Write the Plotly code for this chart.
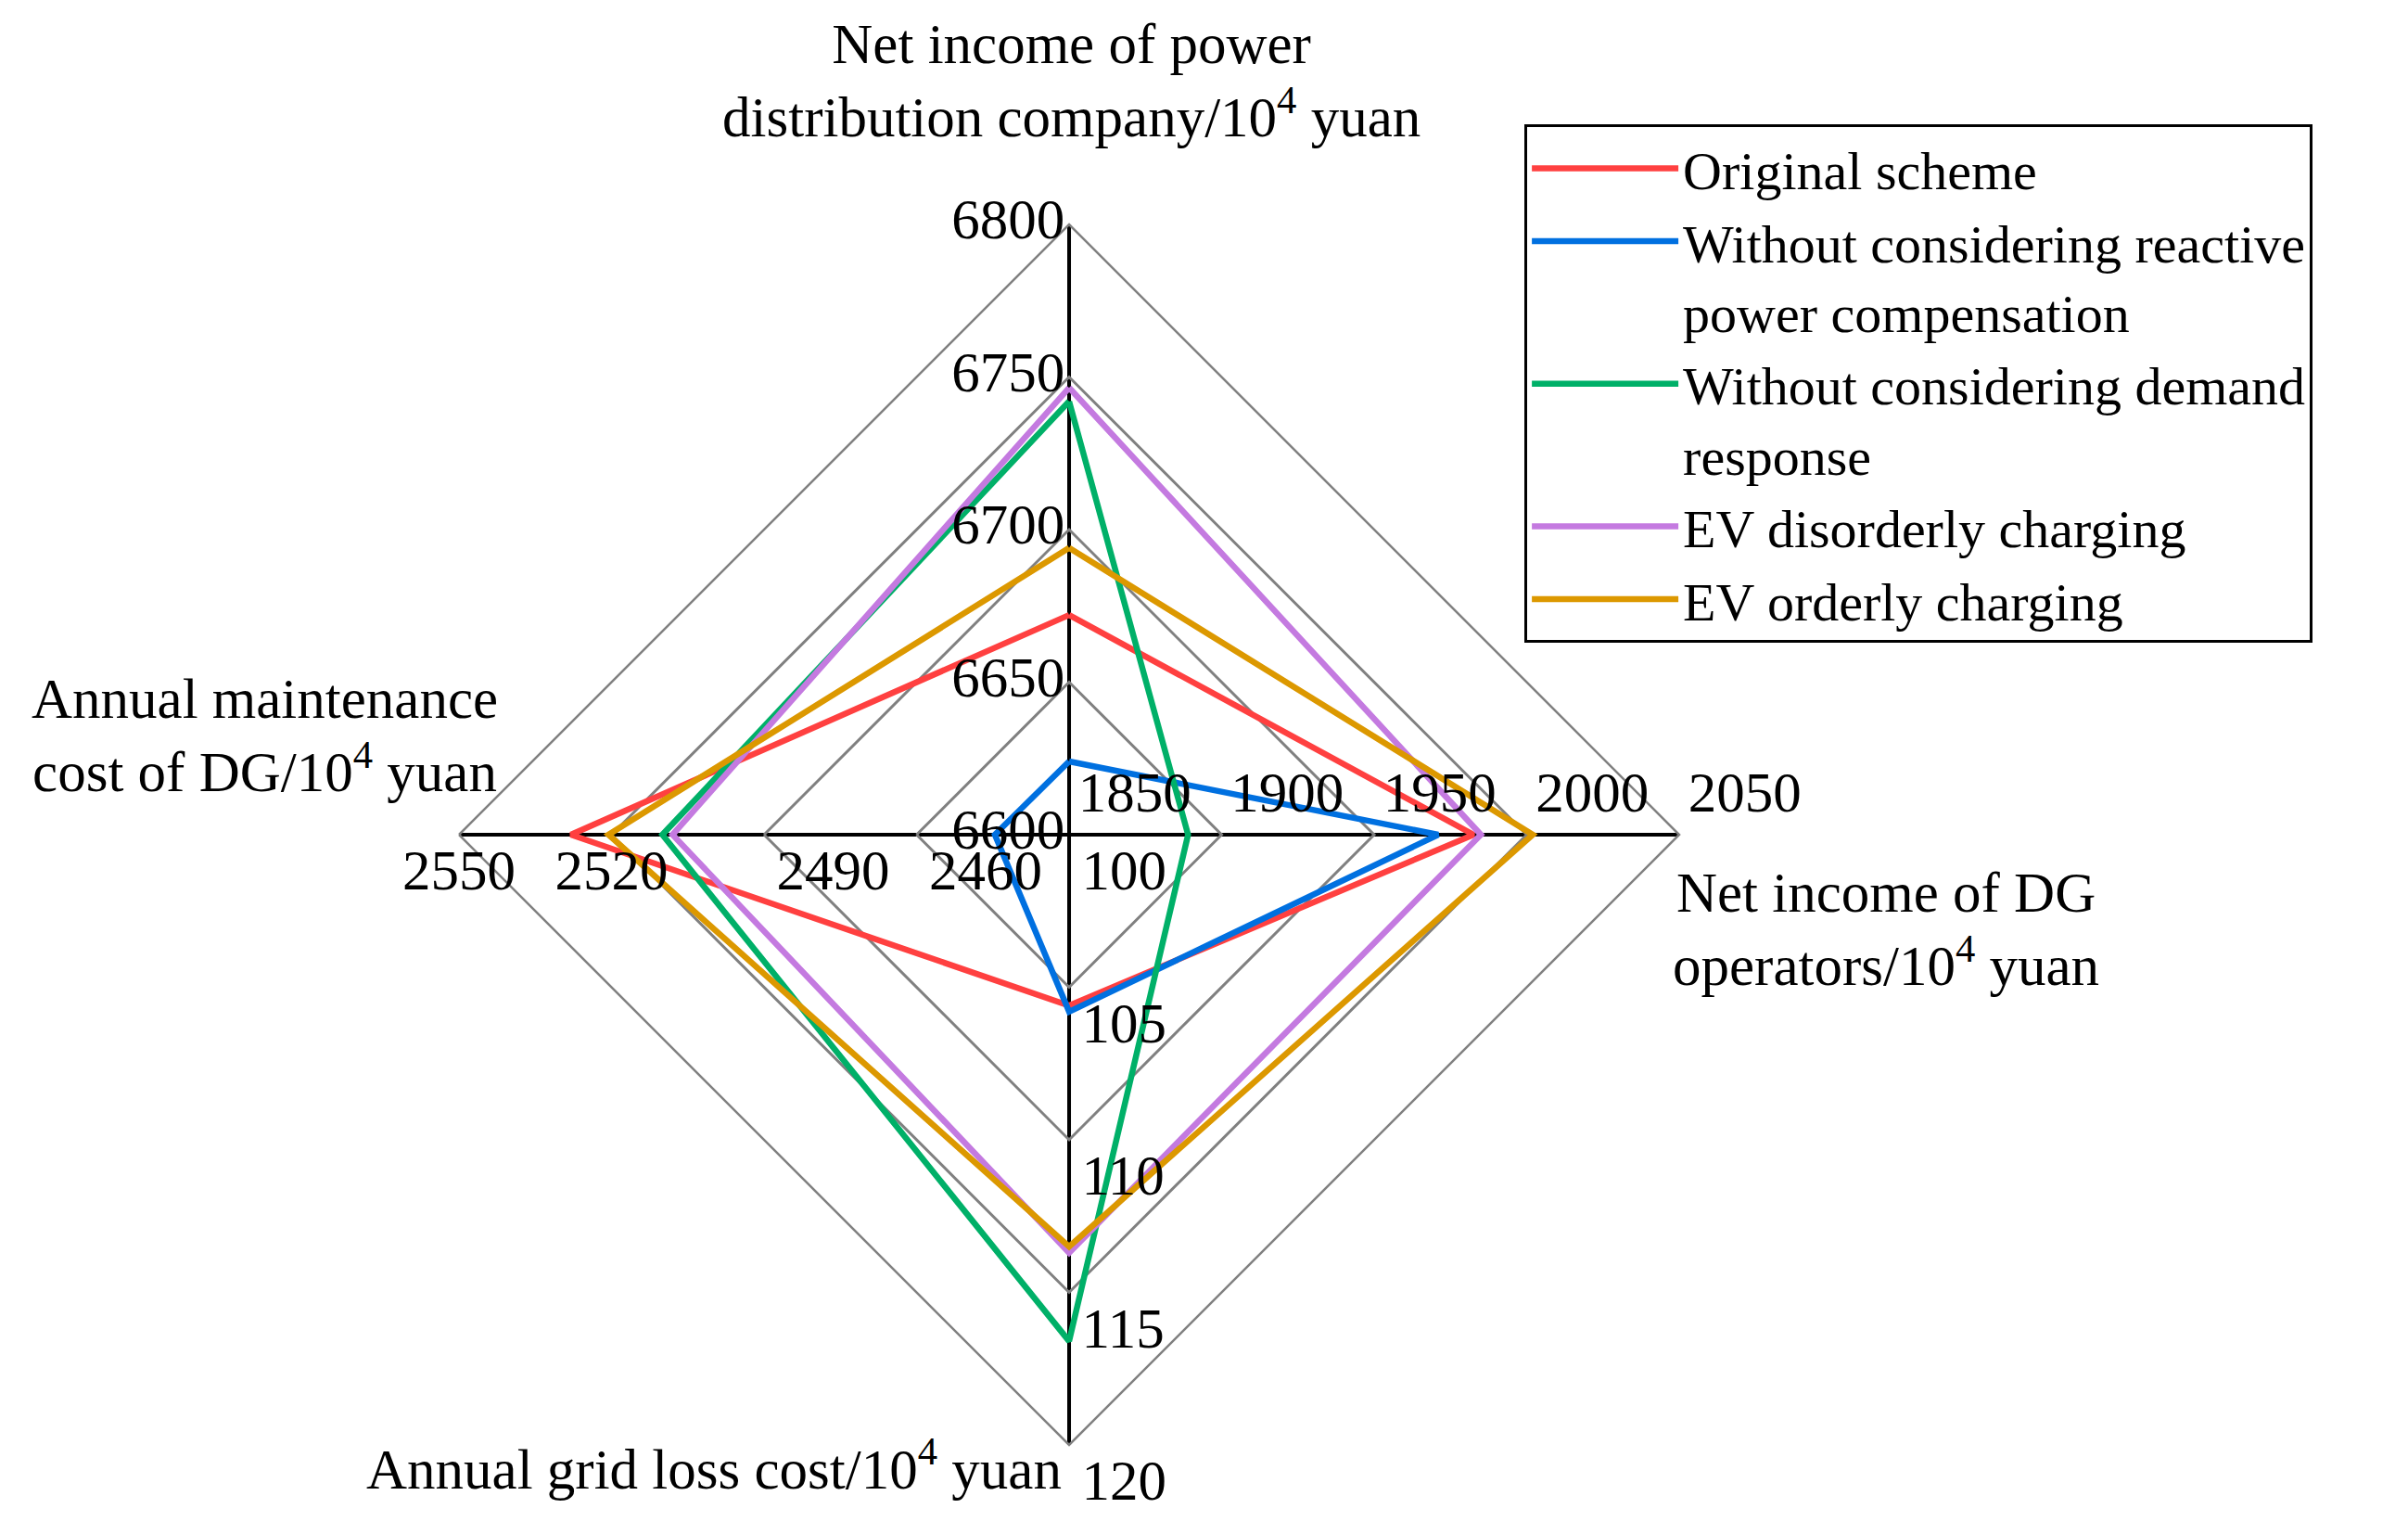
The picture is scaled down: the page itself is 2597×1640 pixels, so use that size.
import plotly.graph_objects as go

# ---------------- data ----------------
axis_keys = ["Net income of power distribution company",
             "Net income of DG operators",
             "Annual grid loss cost",
             "Annual maintenance cost of DG"]
axis_centers = [6600, 1850, 100, 2430]
axis_maxes = [6800, 2050, 120, 2550]

series_names = ["Original scheme",
                "Without considering reactive<br>power compensation",
                "Without considering demand<br>response",
                "EV disorderly charging",
                "EV orderly charging"]
original_scheme = [6672, 1982.6, 105.6, 2528]
no_reactive_comp = [6624, 1971, 105.8, 2444.6]
no_demand_response = [6742, 1889, 116.6, 2510]
ev_disorderly = [6746.5, 1985, 113.7, 2508]
ev_orderly = [6694, 2002, 113.5, 2520.6]
series_values = [original_scheme, no_reactive_comp, no_demand_response, ev_disorderly, ev_orderly]
series_colors = ["#FF4040", "#0070E0", "#00B068", "#C47AE0", "#DC9800"]

top_ticks = [6600, 6650, 6700, 6750, 6800]
right_ticks = [1850, 1900, 1950, 2000, 2050]
bottom_ticks = [100, 105, 110, 115, 120]
left_ticks = [2460, 2490, 2520, 2550]

FONT = "Liberation Serif"
FS = 61
LEG_FS = 58
# plotly hides points lying exactly on the inner radial bound, so centre labels get a negligible nudge
LABEL_EPS = 1e-6


def norm(i, v):
    return (v - axis_centers[i]) / (axis_maxes[i] - axis_centers[i])


fig = go.Figure()

for name, vals, col in zip(series_names, series_values, series_colors):
    r = [norm(i, v) for i, v in enumerate(vals)]
    fig.add_trace(go.Scatterpolar(
        r=r + r[:1], theta=axis_keys + axis_keys[:1], mode="lines", name=name,
        line=dict(color=col, width=6.5), hoverinfo="skip"))


# tick labels drawn through the polar scale
def tick_trace(i, ticks, pos, size):
    fig.add_trace(go.Scatterpolar(
        r=[max(norm(i, t), LABEL_EPS) for t in ticks], theta=[axis_keys[i]] * len(ticks),
        mode="markers+text", text=[str(t) for t in ticks], textposition=pos,
        marker=dict(size=size, opacity=0), textfont=dict(family=FONT, size=FS, color="black"),
        showlegend=False, hoverinfo="skip", cliponaxis=False))


tick_trace(0, top_ticks, "middle left", 0)
tick_trace(1, right_ticks, "top right", 14)
tick_trace(2, bottom_ticks, "bottom right", 20)
tick_trace(3, left_ticks, ["bottom right", "bottom right", "bottom center", "bottom center"], 20)

fig.update_layout(
    width=2597, height=1640,
    margin=dict(l=0, r=0, t=0, b=0),
    paper_bgcolor="white", plot_bgcolor="white",
    font=dict(family=FONT, size=FS, color="black"),
    polar=dict(
        domain=dict(x=[0.1875, 0.6943], y=[0.0549, 0.8573]),
        bgcolor="white",
        gridshape="linear",
        radialaxis=dict(range=[0, 1], tickvals=[0.25, 0.5, 0.75, 1.0], showticklabels=False,
                        ticks="", showline=False, gridcolor="#808080", gridwidth=2.5,
                        layer="below traces"),
        angularaxis=dict(type="category", direction="clockwise", rotation=90,
                         showticklabels=False, ticks="", showline=True, linecolor="#808080",
                         linewidth=2.5, gridcolor="black", gridwidth=4, layer="below traces"),
    ),
    legend=dict(x=0.63, y=0.923, xanchor="left", yanchor="top",
                bordercolor="black", borderwidth=3, bgcolor="white",
                font=dict(family=FONT, size=LEG_FS, color="black"),
                itemwidth=158, valign="top", tracegroupgap=0),
    annotations=[
        dict(text="Net income of power<br>distribution company/10<sup>4</sup> yuan",
             x=0.442, y=0.952, xref="paper", yref="paper", xanchor="center", yanchor="middle",
             showarrow=False, align="center"),
        dict(text="Net income of DG<br>operators/10<sup>4</sup> yuan",
             x=0.780, y=0.394, xref="paper", yref="paper", xanchor="center", yanchor="middle",
             showarrow=False, align="center"),
        dict(text="Annual grid loss cost/10<sup>4</sup> yuan",
             x=0.4386, y=0.0415, xref="paper", yref="paper", xanchor="right", yanchor="middle",
             showarrow=False),
        dict(text="Annual maintenance<br>cost of DG/10<sup>4</sup> yuan",
             x=0.107, y=0.5216, xref="paper", yref="paper", xanchor="center", yanchor="middle",
             showarrow=False, align="center"),
    ],
)

fig.write_html("out.html")
